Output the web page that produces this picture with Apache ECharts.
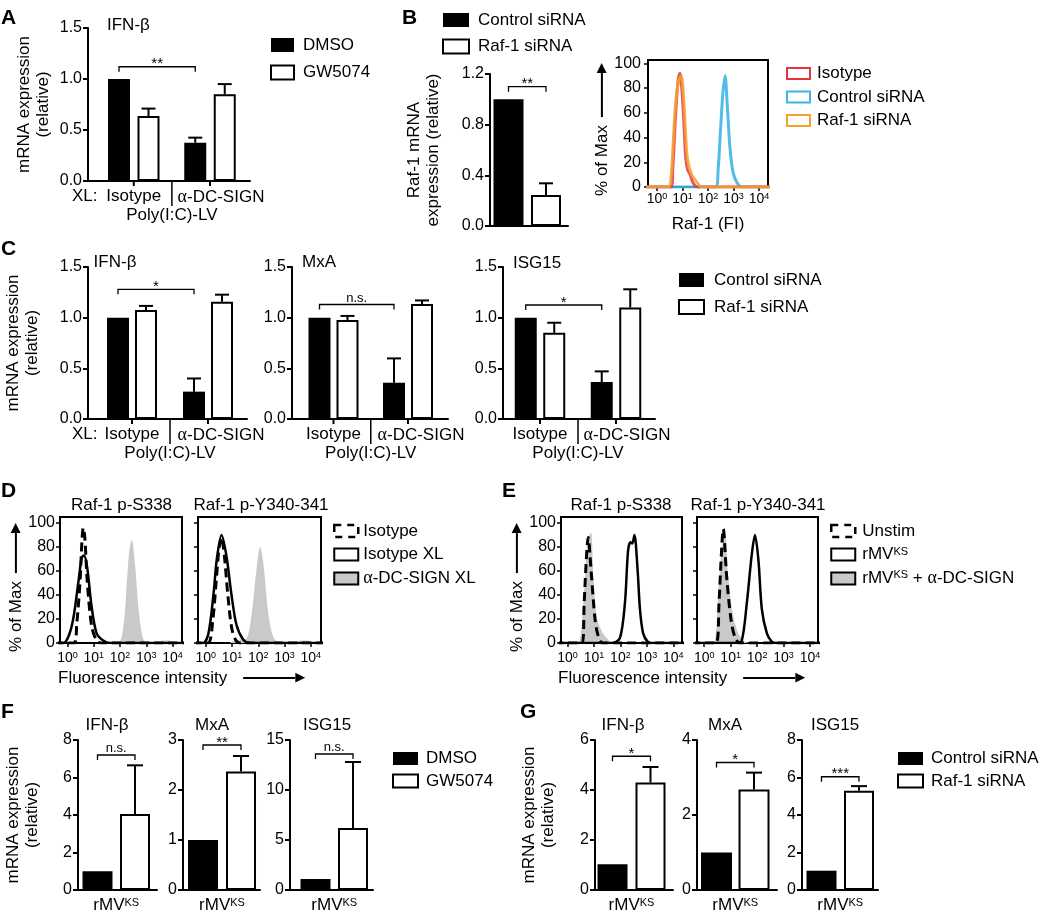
<!DOCTYPE html>
<html><head><meta charset="utf-8"><title>Raf-1 / DC-SIGN figure</title>
<script src="https://cdn.jsdelivr.net/npm/echarts@6.0.0/dist/echarts.min.js"></script>
<style>html,body{margin:0;padding:0;background:#fff;}#chart{width:1050px;height:914px;}</style>
</head><body><div id="chart"></div>
<script>
// ======================= DATA =======================
// Panel A - IFN-β mRNA (relative), DMSO vs GW5074
const xlPrefix = 'XL:';
const aCategories = ['Isotype', '{g|α}-DC-SIGN'];
const aDMSO = [1.0, 0.375];
const aDMSOsem = [0, 0.05];
const aGW5074 = [0.637, 0.85];
const aGW5074sem = [0.073, 0.10];
const aYTicks = [0, 0.5, 1.0, 1.5];
const aSigText = ['**'];
const aSigY = [1.12];

// Panel B - Raf-1 mRNA
const bControl = [1.0];
const bControlSem = [0];
const bRaf1 = [0.245];
const bRaf1Sem = [0.092];
const bYTicks = [0, 0.4, 0.8, 1.2];
const bSigText = ['**'];
const bSigY = [1.10];

// Panel B - Raf-1 flow histogram: [log10 FI, % of Max]
const bHistIsotype = [[-0.5,0],[0.55,0],[0.62,15],[0.72,55],[0.82,85],[0.9,92],[0.98,78],[1.06,50],[1.12,25],[1.2,14],[1.3,10],[1.42,3],[1.6,0],[4.5,0]];
const bHistControl = [[-0.5,0],[2.3,0],[2.4,15],[2.48,42],[2.58,75],[2.67,90],[2.75,68],[2.86,32],[2.98,12],[3.15,3],[3.33,0],[4.5,0]];
const bHistRaf1 = [[-0.5,0],[0.45,0],[0.55,8],[0.62,30],[0.72,65],[0.85,86],[0.95,90],[1.05,70],[1.13,40],[1.2,22],[1.36,10],[1.56,4],[1.75,0],[4.5,0]];

// Panel C - IFN-β, MxA, ISG15 with control / Raf-1 siRNA
const cGenes = ['IFN-β', 'MxA', 'ISG15'];
const cCategories = ['Isotype', '{g|α}-DC-SIGN'];
const cControl = [[1.0, 0.27], [1.0, 0.358], [1.0, 0.365]];
const cControlSem = [[0, 0.13], [0, 0.24], [0, 0.105]];
const cRaf1 = [[1.076, 1.157], [0.977, 1.135], [0.85, 1.10]];
const cRaf1Sem = [[0.04, 0.07], [0.04, 0.035], [0.10, 0.18]];
const cYTicks = [0, 0.5, 1.0, 1.5];
const cSigText = ['*', 'n.s.', '*'];
const cSigY = [1.28, 1.13, 1.125];

// Panel D - phospho-Raf-1 histograms (S338, Y340-341)
const dTitles = ['Raf-1 p-S338', 'Raf-1 p-Y340-341'];
const dIsotype = [
  [[-0.5,0],[0.25,0],[0.35,15],[0.48,52],[0.55,85],[0.6,96],[0.66,88],[0.75,52],[0.92,14],[1.11,2],[1.3,0],[4.5,0]],
  [[-0.5,0],[0.08,0],[0.27,20],[0.39,50],[0.5,78],[0.6,88],[0.71,72],[0.84,40],[0.99,12],[1.15,2],[1.3,0],[4.5,0]]
];
const dIsotypeXL = [
  [[-0.5,0],[-0.16,0],[0.16,14],[0.41,50],[0.54,71],[0.63,73],[0.75,63],[0.92,30],[1.11,8],[1.36,2],[1.62,0],[4.5,0]],
  [[-0.5,0],[-0.1,0],[0.1,8],[0.29,40],[0.42,70],[0.6,90],[0.79,72],[0.98,40],[1.17,15],[1.42,3],[1.68,0],[4.5,0]]
];
const dDCSIGNXL = [
  [[-0.5,0],[1.9,0],[2.13,14],[2.26,50],[2.35,76],[2.45,86],[2.57,66],[2.7,30],[2.86,5],[3.03,0],[3.5,0],[3.6,2],[3.9,2],[4.0,0],[4.5,0]],
  [[-0.5,0],[0.9,0],[1.06,2],[1.32,3],[1.56,4],[1.75,25],[1.94,63],[2.07,80],[2.19,67],[2.38,25],[2.57,5],[2.82,0],[3.5,0],[3.6,2],[3.9,2],[4.0,0],[4.5,0]]
];

// Panel E - phospho-Raf-1 histograms after rMV-KS
const eTitles = ['Raf-1 p-S338', 'Raf-1 p-Y340-341'];
const eUnstim = [
  [[-0.5,0],[0.55,0],[0.63,33],[0.7,65],[0.78,88],[0.91,55],[1.04,20],[1.16,6],[1.34,0],[4.5,0]],
  [[-0.5,0],[0.45,0],[0.56,33],[0.64,70],[0.72,95],[0.85,55],[1.01,20],[1.16,5],[1.35,0],[4.5,0]]
];
const eRMV = [
  [[-0.5,0],[1.68,0],[1.98,4],[2.17,33],[2.29,77],[2.38,84],[2.45,83],[2.53,90],[2.65,61],[2.74,28],[2.86,8],[3.04,1],[3.23,0],[4.5,0]],
  [[-0.5,0],[1.2,0],[1.42,2],[1.61,33],[1.8,74],[1.92,90],[2.05,69],[2.18,28],[2.37,8],[2.56,1],[2.72,0],[4.5,0]]
];
const eRMVDCSIGN = [
  [[-0.5,0],[0.28,0],[0.47,2],[0.66,55],[0.77,86],[0.89,92],[0.98,55],[1.1,22],[1.29,10],[1.53,3],[1.72,0],[4.5,0]],
  [[-0.5,0],[0.2,0],[0.41,2],[0.53,42],[0.66,77],[0.79,92],[0.91,55],[1.1,22],[1.29,8],[1.48,2],[1.73,0],[4.5,0]]
];

// Panel F - DMSO vs GW5074 after rMV-KS
const fGenes = ['IFN-β', 'MxA', 'ISG15'];
const fCategory = ['rMV{s|KS}'];
const fDMSO = [1.0, 1.0, 1.1];
const fGW5074 = [4.05, 2.37, 6.2];
const fGW5074Sem = [2.6, 0.31, 6.6];
const fYTicks = [[0, 2, 4, 6, 8], [0, 1, 2, 3], [0, 5, 10, 15]];
const fSigText = ['n.s.', '**', 'n.s.'];
const fSigY = [7.2, 2.9, 13.6];

// Panel G - control vs Raf-1 siRNA after rMV-KS
const gGenes = ['IFN-β', 'MxA', 'ISG15'];
const gCategory = ['rMV{s|KS}'];
const gControl = [1.03, 1.0, 1.03];
const gRaf1 = [4.3, 2.68, 5.3];
const gRaf1Sem = [0.62, 0.45, 0.24];
const gYTicks = [[0, 2, 4, 6], [0, 2, 4], [0, 2, 4, 6, 8]];
const gSigText = ['*', '*', '***'];
const gSigY = [5.35, 3.4, 6.04];

// histogram tick labels (decade exponents and % of max)
const histXTicks = [0, 1, 2, 3, 4];
const histYTicks = [0, 20, 40, 60, 80, 100];

const legendText = {
  A_DMSO: 'DMSO', A_GW: 'GW5074', B_ctrl: 'Control siRNA', B_raf: 'Raf-1 siRNA',
  Bh_iso: 'Isotype', Bh_ctrl: 'Control siRNA', Bh_raf: 'Raf-1 siRNA',
  C_ctrl: 'Control siRNA', C_raf: 'Raf-1 siRNA',
  D_iso: 'Isotype', D_isoXL: 'Isotype XL', D_dc: '{g|α}-DC-SIGN XL',
  E_un: 'Unstim', E_rmv: 'rMV{s|KS}', E_rmvdc: 'rMV{s|KS} + {g|α}-DC-SIGN',
  F_DMSO: 'DMSO', F_GW: 'GW5074', G_ctrl: 'Control siRNA', G_raf: 'Raf-1 siRNA'
};

// ======================= STYLE / BUILDERS =======================
const FONT = '"Liberation Sans", Arial, Helvetica, sans-serif';
const BLACK = '#000';
const RICH = {
  s: {fontSize: 11, verticalAlign: 'top', lineHeight: 11},
  hs: {fontSize: 9, verticalAlign: 'top', lineHeight: 9},
  g: {fontFamily: '"Liberation Serif", "DejaVu Serif", serif', fontSize: 18},
  gp: {width: 8},
  hd: {fontSize: 13, fontFamily: '"DejaVu Sans", sans-serif'},
  lnx: {width: 52, height: 2, backgroundColor: '#000', verticalAlign: 'middle'},
  lny: {width: 40, height: 2, backgroundColor: '#000', verticalAlign: 'middle'},
  lnyb: {width: 44, height: 2, backgroundColor: '#000', verticalAlign: 'middle'}
};
const option = {
  animation: false, backgroundColor: '#fff',
  textStyle: {fontFamily: FONT, color: BLACK},
  title: [], legend: [], grid: [], xAxis: [], yAxis: [], series: []
};
function axisLine() { return {show: true, onZero: false, lineStyle: {color: BLACK, width: 2}}; }

function addBarPlot(L, cfg) {
  const gi = option.grid.length;
  option.grid.push({left: L.left, top: L.top, width: L.right - L.left, height: L.bottom - L.top});
  const cats = cfg.categories;
  const n = cats.length;
  let xmin, xmax, sepPx, U;
  if (n === 2) {
    U = L.c2 - L.c1;
    xmin = 1 - (L.c1 - L.left) / U; xmax = 2 + (L.right - L.c2) / U; sepPx = (L.c1 + L.c2) / 2;
  } else {
    U = 100;
    xmin = 1 - (L.c - L.left) / U; xmax = 1 + (L.right - L.c) / U; sepPx = L.c;
  }
  const pos = cats.map((_, i) => i + 1);
  // label anchors: second group label nudged right of the separator, like the original
  const labelPos = pos.map((p, i) => p + (n === 2 && i === 1 ? (L.labelNudge || 12) / U : 0));
  const shift = sepPx - (L.left + L.right) / 2;
  option.xAxis.push({
    gridIndex: gi, type: 'value', min: xmin, max: xmax, splitLine: {show: false},
    axisLine: axisLine(),
    axisTick: {show: false},
    axisLabel: {show: !cfg.hideLabels, customValues: labelPos, showMinLabel: true, showMaxLabel: true, hideOverlap: false,
      fontSize: 17, color: BLACK, margin: L.labelMargin || 7, rich: RICH,
      formatter: v => cats[Math.round(v) - 1] || ''},
    name: cfg.xName || '', nameLocation: 'middle', nameGap: L.xNameGap || 25,
    nameTextStyle: {fontSize: 17, color: BLACK, padding: shift > 0 ? [0, 0, 0, 2 * shift] : [0, -2 * shift, 0, 0]}
  });
  const t = cfg.yTicks;
  option.yAxis.push({
    gridIndex: gi, type: 'value', min: t[0], max: t[t.length - 1], interval: t[1] - t[0], splitLine: {show: false},
    axisLine: axisLine(), axisTick: {show: true, length: 5, lineStyle: {color: BLACK, width: 2}},
    axisLabel: {fontSize: 16, color: BLACK, margin: 6,
      formatter: cfg.decimals ? (v => v.toFixed(cfg.decimals)) : (v => String(Math.round(v)))},
    name: cfg.yName || '', nameLocation: 'middle', nameRotate: 90, nameGap: L.yNameGap || 35,
    nameTextStyle: {fontSize: 17, lineHeight: 19, color: BLACK}
  });
  const d = (L.W + L.gap) / 2;
  const gapPct = (L.gap / L.W * 100).toFixed(1) + '%';
  cfg.series.forEach((s, si) => {
    option.series.push({
      type: 'bar', name: s.name, xAxisIndex: gi, yAxisIndex: gi, barWidth: L.W, barGap: gapPct,
      data: s.values.map((v, i) => [i + 1, v]), silent: true, z: 2,
      itemStyle: si === 0 ? {color: BLACK} : {color: '#fff', borderColor: BLACK, borderWidth: 2}
    });
  });
  const errData = [];
  cfg.series.forEach((s, si) => s.values.forEach((v, i) => {
    if (s.sem && s.sem[i] > 0) errData.push([i + 1, v, v + s.sem[i], si]);
  }));
  const cap = L.cap || 14;
  option.series.push({
    type: 'custom', xAxisIndex: gi, yAxisIndex: gi, silent: true, z: 3, data: errData,
    renderItem: (p, api) => {
      const a = api.coord([api.value(0), api.value(1)]);
      const b = api.coord([api.value(0), api.value(2)]);
      const cx = a[0] + (api.value(3) === 0 ? -d : d);
      return {type: 'group', children: [
        {type: 'line', shape: {x1: cx, y1: a[1], x2: cx, y2: b[1]}, style: {stroke: BLACK, lineWidth: 2}},
        {type: 'line', shape: {x1: cx - cap / 2, y1: b[1], x2: cx + cap / 2, y2: b[1]}, style: {stroke: BLACK, lineWidth: 2}}
      ]};
    }
  });
  if (cfg.sig) {
    option.series.push({
      type: 'custom', xAxisIndex: gi, yAxisIndex: gi, silent: true, z: 3,
      data: cfg.sig.map(sg => [sg.from[0] + 1, sg.from[1], sg.to[0] + 1, sg.to[1], sg.y]),
      renderItem: (p, api) => {
        const txt = cfg.sig[p.dataIndex].text;
        const a = api.coord([api.value(0), api.value(4)]);
        const b = api.coord([api.value(2), api.value(4)]);
        const xa = a[0] + (api.value(1) === 0 ? -d : d);
        const xb = b[0] + (api.value(3) === 0 ? -d : d);
        const y = a[1];
        const star = txt.indexOf('*') >= 0;
        return {type: 'group', children: [
          {type: 'polyline', shape: {points: [[xa, y + 5], [xa, y], [xb, y], [xb, y + 5]]}, style: {stroke: BLACK, lineWidth: 1.3, fill: null}},
          {type: 'text', x: (xa + xb) / 2, y: star ? y + 5 : y, style: {text: txt, fontSize: star ? 15 : 13, fontFamily: FONT, fill: BLACK, align: 'center', verticalAlign: 'bottom'}}
        ]};
      }
    });
  }
  if (L.ticks) {
    // category tick marks and the group separator below the x axis
    option.series.push({
      type: 'custom', xAxisIndex: gi, yAxisIndex: gi, silent: true, z: 3,
      data: pos.map(p => [p, 0, 5]).concat(cfg.separator ? [[1.5, 0, 25]] : []),
      renderItem: (p, api) => {
        const c = api.coord([api.value(0), api.value(1)]);
        const len = api.value(2);
        return {type: 'line', shape: {x1: c[0], y1: c[1], x2: c[0], y2: c[1] + len},
          style: {stroke: BLACK, lineWidth: len > 5 ? 1.5 : 2}};
      }
    });
  }
}

function addHist(L, cfg) {
  const gi = option.grid.length;
  option.grid.push({left: L.left, top: L.top, width: L.right - L.left, height: L.bottom - L.top,
    show: true, borderColor: BLACK, borderWidth: 2, backgroundColor: 'transparent'});
  const dec = (L.x4 - L.x0) / 4;
  const xmin = (L.left - L.x0) / dec, xmax = 4 + (L.right - L.x4) / dec;
  const ymax = 100 * (L.bottom - L.top) / (L.bottom - L.y100);
  option.xAxis.push({
    gridIndex: gi, type: 'value', min: xmin, max: xmax, splitLine: {show: false}, axisLine: axisLine(),
    axisTick: {show: true, customValues: histXTicks, length: 4, lineStyle: {color: BLACK, width: 1.5}},
    axisLabel: {customValues: histXTicks, showMinLabel: true, showMaxLabel: true,
      formatter: v => '10{hs|' + Math.round(v) + '}', fontSize: 14, color: BLACK, margin: L.xLabelMargin, rich: RICH},
    name: cfg.xName || '', nameLocation: 'middle', nameGap: 29, nameTextStyle: {fontSize: 17, color: BLACK}
  });
  option.yAxis.push({
    gridIndex: gi, type: 'value', min: 0, max: ymax, splitLine: {show: false}, axisLine: axisLine(),
    axisTick: {show: true, customValues: histYTicks, length: 4, lineStyle: {color: BLACK, width: 1.5}},
    axisLabel: {show: !cfg.hideYLabels, customValues: histYTicks, showMinLabel: true, showMaxLabel: true,
      fontSize: 16, color: BLACK, margin: L.yLabelMargin},
    name: cfg.yName || '', nameLocation: 'middle', nameRotate: 90, nameGap: 33,
    nameTextStyle: {fontSize: 17, color: BLACK, rich: RICH, padding: cfg.yNamePad || 0}
  });
  cfg.curves.forEach(c => option.series.push({
    type: 'line', name: c.name, xAxisIndex: gi, yAxisIndex: gi, data: c.data, showSymbol: false, symbol: 'none',
    smooth: 0.3, silent: true, z: c.z, clip: true,
    lineStyle: c.fill ? {width: 0, opacity: 0} : {color: c.color, width: c.width || 2.5, type: c.dash || 'solid', opacity: c.opacity || 1},
    itemStyle: {color: c.fill || c.color},
    areaStyle: c.fill ? {color: c.fill, opacity: 1} : undefined
  }));
}

function addLegend(L, items) {
  option.legend.push({
    left: L.left, top: L.top, orient: 'vertical', itemWidth: L.w, itemHeight: L.h, itemGap: L.gap,
    selectedMode: false, padding: 0,
    data: items.map(it => ({name: it[0], icon: 'rect', itemStyle: it[1]})),
    formatter: name => legendText[name],
    textStyle: {fontSize: 17, color: BLACK, padding: [0, 0, 0, L.textPad], rich: RICH}
  });
}
function addText(text, x, y, align, size, bold) {
  option.title.push({text: text, left: x, top: y, padding: 0, textAlign: align, textVerticalAlign: 'middle',
    textStyle: {fontSize: size, fontWeight: bold ? 'bold' : 'normal', color: BLACK, fontFamily: FONT, rich: RICH}});
}
const BLACK_BOX = {color: BLACK, borderWidth: 0};
const WHITE_BOX = {color: '#fff', borderColor: BLACK, borderWidth: 2};
const RED = '#e2363f', BLUE = '#3db6e6', ORANGE = '#f4a232', GRAY = '#c9c9c9';

// ======================= PANELS =======================
// A
addBarPlot({left: 88, right: 250, top: 28, bottom: 181, c1: 133.75, c2: 210, W: 22, gap: 7.5, ticks: true, yNameGap: 35, labelNudge: 11},
  {categories: aCategories, yTicks: aYTicks, decimals: 1, yName: 'mRNA expression\n(relative)', xName: 'Poly(I:C)-LV', separator: true,
   series: [{name: 'A_DMSO', values: aDMSO, sem: aDMSOsem}, {name: 'A_GW', values: aGW5074, sem: aGW5074sem}],
   sig: [{text: aSigText[0], y: aSigY[0], from: [0, 0], to: [1, 0]}]});
addLegend({left: 270, top: 36.5, w: 23, h: 14, gap: 10.5, textPad: 4}, [['A_DMSO', BLACK_BOX], ['A_GW', WHITE_BOX]]);
addText('A', 1, 18, 'left', 21, true);
addText('IFN-β', 107, 25, 'left', 17);
addText(xlPrefix, 72, 196.5, 'left', 17);

// B bar
addBarPlot({left: 490, right: 568, top: 74, bottom: 226, c: 527.25, W: 30, gap: 7.5, ticks: false, yNameGap: 47, cap: 14},
  {categories: [''], hideLabels: true, yTicks: bYTicks, decimals: 1, yName: 'Raf-1 mRNA\nexpression (relative)',
   series: [{name: 'B_ctrl', values: bControl, sem: bControlSem}, {name: 'B_raf', values: bRaf1, sem: bRaf1Sem}],
   sig: [{text: bSigText[0], y: bSigY[0], from: [0, 0], to: [0, 1]}]});
addLegend({left: 442, top: 11.5, w: 26, h: 14, gap: 9.5, textPad: 4}, [['B_ctrl', BLACK_BOX], ['B_raf', WHITE_BOX]]);
addText('B', 402, 18, 'left', 21, true);

// B histogram
addHist({left: 648, right: 768, top: 60, bottom: 187, x0: 657, x4: 759, y100: 63.3, xLabelMargin: 5, yLabelMargin: 7},
  {xName: 'Raf-1 (FI)', yName: '% of Max{gp| }{lnyb| }{hd|▶}', yNamePad: [0, 12, 0, 0],
   curves: [
     {name: 'Bh_ctrl', data: bHistControl, color: BLUE, width: 3, z: 2, opacity: 0.9},
     {name: 'Bh_iso', data: bHistIsotype, color: RED, width: 3, z: 3, opacity: 0.85},
     {name: 'Bh_raf', data: bHistRaf1, color: ORANGE, width: 3, z: 4, opacity: 0.85}
   ]});
addLegend({left: 786, top: 65, w: 23, h: 11, gap: 6.5, textPad: 2},
  [['Bh_iso', {color: '#fff', borderColor: RED, borderWidth: 2}],
   ['Bh_ctrl', {color: '#fff', borderColor: BLUE, borderWidth: 2}],
   ['Bh_raf', {color: '#fff', borderColor: ORANGE, borderWidth: 2}]]);

// C
const cLayouts = [
  {left: 88, right: 247, top: 267, bottom: 419, c1: 132, c2: 208, W: 22, gap: 6, ticks: true, yNameGap: 46, labelNudge: 13},
  {left: 292, right: 448, top: 267, bottom: 419, c1: 333.5, c2: 408, W: 22, gap: 6, ticks: true, labelNudge: 13},
  {left: 503, right: 655, top: 267, bottom: 419, c1: 540, c2: 616, W: 22, gap: 6.5, ticks: true, labelNudge: 11}
];
const cTitlePos = [[115, 262], [319, 262], [537, 263]];
cGenes.forEach((g, k) => {
  addBarPlot(cLayouts[k], {
    categories: cCategories, yTicks: cYTicks, decimals: 1,
    yName: k === 0 ? 'mRNA expression\n(relative)' : '', xName: 'Poly(I:C)-LV', separator: true,
    series: [{name: 'C_ctrl', values: cControl[k], sem: cControlSem[k]}, {name: 'C_raf', values: cRaf1[k], sem: cRaf1Sem[k]}],
    sig: [{text: cSigText[k], y: cSigY[k], from: [0, 0], to: [1, 0]}]});
  addText(g, cTitlePos[k][0], cTitlePos[k][1], 'center', 17);
});
addLegend({left: 678, top: 271.5, w: 25, h: 14, gap: 10, textPad: 5}, [['C_ctrl', BLACK_BOX], ['C_raf', WHITE_BOX]]);
addText('C', 1, 249, 'left', 21, true);
addText(xlPrefix, 72, 434.5, 'left', 17);

// D
const dLayouts = [
  {left: 60, right: 182, top: 517, bottom: 643, x0: 67.5, x4: 172.5, y100: 523, xLabelMargin: 8, yLabelMargin: 5},
  {left: 198, right: 321, top: 517, bottom: 643, x0: 205.8, x4: 310.8, y100: 523, xLabelMargin: 8, yLabelMargin: 5}
];
const dTitlePos = [[121.5, 505], [261, 505]];
dTitles.forEach((t, k) => {
  addHist(dLayouts[k], {yName: k === 0 ? '% of Max{gp| }{lny| }{hd|▶}' : '', yNamePad: [0, 15, 0, 0], hideYLabels: k > 0,
    curves: [
      {name: 'D_dc', data: dDCSIGNXL[k], fill: GRAY, z: 1},
      {name: 'D_isoXL', data: dIsotypeXL[k], color: BLACK, width: 2.5, z: 2},
      {name: 'D_iso', data: dIsotype[k], color: BLACK, width: 3, dash: [9, 5], z: 3}
    ]});
  addText(t, dTitlePos[k][0], dTitlePos[k][1], 'center', 17);
});
addLegend({left: 333, top: 522.5, w: 24, h: 12, gap: 6.5, textPad: 0},
  [['D_iso', {color: '#fff', borderColor: BLACK, borderWidth: 2.5, borderType: [7, 6]}],
   ['D_isoXL', WHITE_BOX],
   ['D_dc', {color: GRAY, borderColor: BLACK, borderWidth: 2}]]);
addText('D', 1, 491, 'left', 21, true);
addText('Fluorescence intensity{gp| }{gp| }{lnx| }{hd|▶}', 58, 678, 'left', 17);

// E
const eLayouts = [
  {left: 561, right: 682, top: 517, bottom: 643, x0: 567.5, x4: 673.3, y100: 523, xLabelMargin: 8, yLabelMargin: 5},
  {left: 697, right: 818, top: 517, bottom: 643, x0: 704.2, x4: 810, y100: 523, xLabelMargin: 8, yLabelMargin: 5}
];
const eTitlePos = [[621, 505], [758, 505]];
eTitles.forEach((t, k) => {
  addHist(eLayouts[k], {yName: k === 0 ? '% of Max{gp| }{lny| }{hd|▶}' : '', yNamePad: [0, 15, 0, 0], hideYLabels: k > 0,
    curves: [
      {name: 'E_rmvdc', data: eRMVDCSIGN[k], fill: GRAY, z: 1},
      {name: 'E_rmv', data: eRMV[k], color: BLACK, width: 2.5, z: 2},
      {name: 'E_un', data: eUnstim[k], color: BLACK, width: 3, dash: [9, 5], z: 3}
    ]});
  addText(t, eTitlePos[k][0], eTitlePos[k][1], 'center', 17);
});
addLegend({left: 830, top: 522.5, w: 24, h: 12, gap: 6.5, textPad: 2},
  [['E_un', {color: '#fff', borderColor: BLACK, borderWidth: 2.5, borderType: [7, 6]}],
   ['E_rmv', WHITE_BOX],
   ['E_rmvdc', {color: GRAY, borderColor: BLACK, borderWidth: 2}]]);
addText('E', 502, 491, 'left', 21, true);
addText('Fluorescence intensity{gp| }{gp| }{lnx| }{hd|▶}', 558, 678, 'left', 17);

// F
const fLayouts = [
  {left: 78, right: 157, top: 740, bottom: 890, c: 116.25, W: 30, gap: 7.5, labelMargin: 7, yNameGap: 36, cap: 16},
  {left: 183, right: 260, top: 740, bottom: 890, c: 222, W: 30, gap: 8, labelMargin: 7, cap: 16},
  {left: 290, right: 373, top: 740, bottom: 890, c: 334.25, W: 30, gap: 7.5, labelMargin: 7, cap: 16}
];
const fTitlePos = [107, 212, 327];
fGenes.forEach((g, k) => {
  addBarPlot(fLayouts[k], {categories: fCategory, yTicks: fYTicks[k], yName: k === 0 ? 'mRNA expression\n(relative)' : '',
    series: [{name: 'F_DMSO', values: [fDMSO[k]], sem: [0]}, {name: 'F_GW', values: [fGW5074[k]], sem: [fGW5074Sem[k]]}],
    sig: [{text: fSigText[k], y: fSigY[k], from: [0, 0], to: [0, 1]}]});
  addText(g, fTitlePos[k], 725, 'center', 17);
});
addLegend({left: 392, top: 750, w: 25, h: 13, gap: 5.5, textPad: 3}, [['F_DMSO', BLACK_BOX], ['F_GW', WHITE_BOX]]);
addText('F', 1, 712, 'left', 21, true);

// G
const gLayouts = [
  {left: 595, right: 673, top: 740, bottom: 890, c: 631.5, W: 30, gap: 8, labelMargin: 7, yNameGap: 37, cap: 16},
  {left: 697, right: 777, top: 740, bottom: 890, c: 735.25, W: 31, gap: 6.5, labelMargin: 7, cap: 16},
  {left: 802, right: 878, top: 740, bottom: 890, c: 840.25, W: 30, gap: 7.5, labelMargin: 7, cap: 16}
];
const gTitlePos = [623, 725, 835];
gGenes.forEach((g, k) => {
  addBarPlot(gLayouts[k], {categories: gCategory, yTicks: gYTicks[k], yName: k === 0 ? 'mRNA expression\n(relative)' : '',
    series: [{name: 'G_ctrl', values: [gControl[k]], sem: [0]}, {name: 'G_raf', values: [gRaf1[k]], sem: [gRaf1Sem[k]]}],
    sig: [{text: gSigText[k], y: gSigY[k], from: [0, 0], to: [0, 1]}]});
  addText(g, gTitlePos[k], 725, 'center', 17);
});
addLegend({left: 897, top: 750, w: 25, h: 13, gap: 5.5, textPad: 3}, [['G_ctrl', BLACK_BOX], ['G_raf', WHITE_BOX]]);
addText('G', 520, 712, 'left', 21, true);

const chart = echarts.init(document.getElementById('chart'), null, {renderer: 'canvas'});
chart.setOption(option);
</script></body></html>
